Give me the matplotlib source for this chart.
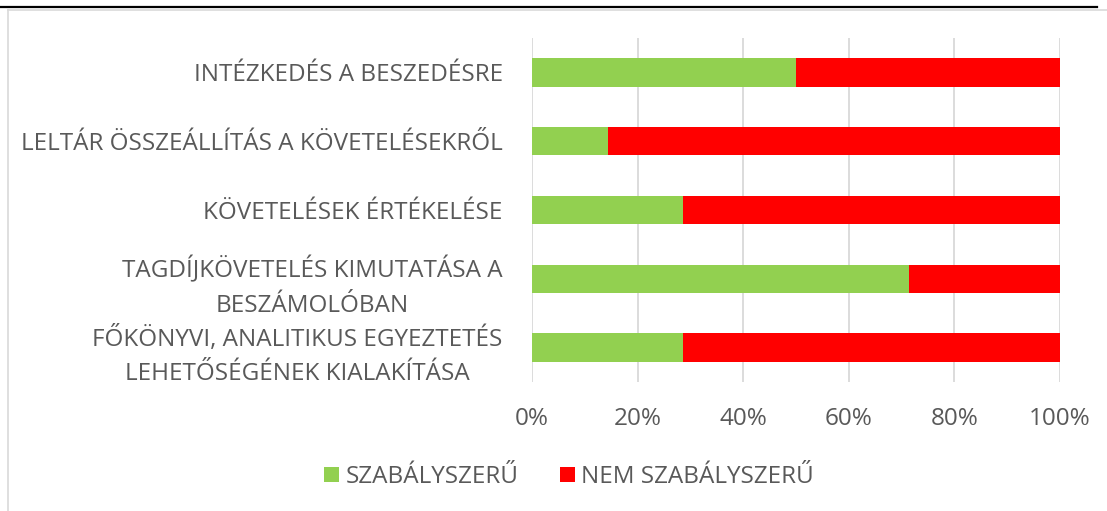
import numpy as np
import matplotlib
matplotlib.use("Agg")
import matplotlib.pyplot as plt
from matplotlib.patches import Patch
from matplotlib.ticker import PercentFormatter

plt.rcParams['font.family'] = ['Open Sans', 'DejaVu Sans']

categories = [
    "INTÉZKEDÉS A BESZEDÉSRE",
    "LELTÁR ÖSSZEÁLLÍTÁS A KÖVETELÉSEKRŐL",
    "KÖVETELÉSEK ÉRTÉKELÉSE",
    "TAGDÍJKÖVETELÉS KIMUTATÁSA A\nBESZÁMOLÓBAN",
    "FŐKÖNYVI, ANALITIKUS EGYEZTETÉS\nLEHETŐSÉGÉNEK KIALAKÍTÁSA",
]
szabalyos = [50.0, 14.3, 28.6, 71.4, 28.6]
nem_szabalyos = [50.0, 85.7, 71.4, 28.6, 71.4]
series_names = ["SZABÁLYSZERŰ", "NEM SZABÁLYSZERŰ"]
x_ticks = [0, 20, 40, 60, 80, 100]

green = "#92D050"
red = "#FF0000"
text_col = "#595959"
grid_col = "#D9D9D9"
fs = 17.5

fig = plt.figure(figsize=(11.07, 5.11), dpi=100)
ax = fig.add_axes([532 / 1107, 1 - 382 / 511, 528 / 1107, 344 / 511])

y = np.arange(len(categories))
ax.barh(y, szabalyos, height=0.41, color=green, zorder=3)
ax.barh(y, nem_szabalyos, left=szabalyos, height=0.41, color=red, zorder=3)

ax.set_xlim(0, 100)
ax.set_ylim(len(categories) - 0.5, -0.5)
ax.set_xticks(x_ticks)
ax.xaxis.set_major_formatter(PercentFormatter(decimals=0))
ax.set_yticks(y)
ax.set_yticklabels(categories, ha='right', multialignment='center', linespacing=1.6)
ax.grid(axis='x', color=grid_col, linewidth=1.3, zorder=0)
for s in ax.spines.values():
    s.set_visible(False)
ax.tick_params(axis='both', length=0, labelsize=fs, labelcolor=text_col)
ax.tick_params(axis='x', pad=18)
ax.tick_params(axis='y', pad=21)

handles = [Patch(facecolor=green), Patch(facecolor=red)]
fig.legend(handles, series_names, loc='center', bbox_to_anchor=(569 / 1107, 1 - 477 / 511),
           ncol=2, frameon=False, fontsize=fs, labelcolor=text_col,
           handlelength=0.62, handleheight=0.62, handletextpad=0.25, columnspacing=1.7)

# frame lines of the cropped report page
fig.add_artist(plt.Line2D([0, 1097 / 1107], [1 - 7 / 511] * 2, color='black', linewidth=1.6))
fig.add_artist(plt.Line2D([8 / 1107, 1], [1 - 10 / 511] * 2, color=grid_col, linewidth=1.2))
fig.add_artist(plt.Line2D([8 / 1107] * 2, [0, 1 - 10 / 511], color=grid_col, linewidth=1.2))

fig.savefig("out.png", dpi=100)
